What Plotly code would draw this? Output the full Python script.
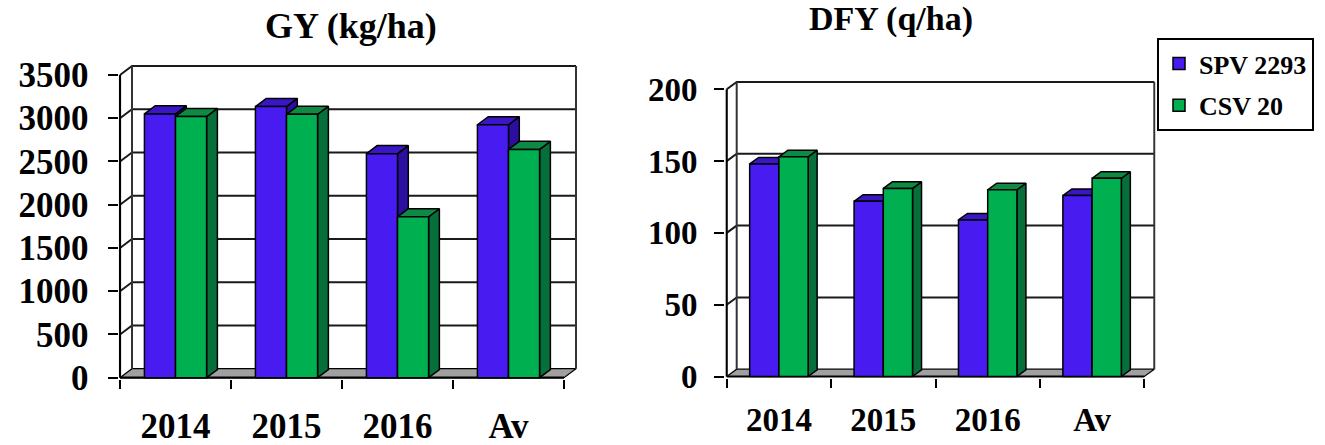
import plotly.graph_objects as go

# ---- data -------------------------------------------------------------
categories = ["2014", "2015", "2016", "Av"]
series_names = ["SPV 2293", "CSV 20"]

gy_spv = [3050, 3135, 2590, 2925]
gy_csv = [3020, 3045, 1860, 2640]
gy_ticks = [0, 500, 1000, 1500, 2000, 2500, 3000, 3500]

dfy_spv = [148, 122, 109, 126]
dfy_csv = [153, 131, 130, 138]
dfy_ticks = [0, 50, 100, 150, 200]

# ---- styling ----------------------------------------------------------
W, H = 1325, 445
FONT = "Liberation Serif"
FRONT = {"SPV 2293": "#481CF0", "CSV 20": "#00B050"}
TOP = {"SPV 2293": "#3A16C4", "CSV 20": "#0E8A45"}
SIDE = {"SPV 2293": "#2C0FA0", "CSV 20": "#07703A"}
FLOOR = "#A0A0A0"
EDGE = "black"

BAR_OFFSET = 0.22   # gap before the first bar of a category (category units)
BAR_WIDTH = 0.28    # width of one bar (category units)
BAR_DEPTH = 0.9     # bar depth as a share of the wall depth

panels = [
    dict(title="GY (kg/ha)", values=[gy_spv, gy_csv], ticks=gy_ticks,
         xa="x", ya="y", px_left=120.0, px_cat=111.0, px_zero=377.7,
         px_top=75.0, depth_x=12.0, depth_y=9.0, font_size=35,
         title_xy=(350.5, 26.5), title_size=36, xlabel_standoff=23,
         ylabel_standoff=12),
    dict(title="DFY (q/ha)", values=[dfy_spv, dfy_csv], ticks=dfy_ticks,
         xa="x2", ya="y2", px_left=726.7, px_cat=104.4, px_zero=376.5,
         px_top=89.3, depth_x=10.0, depth_y=7.3, font_size=33,
         title_xy=(891.0, 19.0), title_size=34, xlabel_standoff=19,
         ylabel_standoff=10),
]

fig = go.Figure()
layout_axes = {}
annotations = []


def poly(p, xs, ys, fill=None, width=1.5, color=EDGE):
    fig.add_trace(go.Scatter(
        x=xs, y=ys, xaxis=p["xa"], yaxis=p["ya"], mode="lines",
        fill="toself" if fill else None, fillcolor=fill,
        line=dict(color=color, width=width), hoverinfo="skip",
        showlegend=False))


for p in panels:
    ncat = len(categories)
    ymax = p["ticks"][-1]
    upp = ymax / (p["px_zero"] - p["px_top"])      # value units per pixel
    ddx = p["depth_x"] / p["px_cat"]               # wall depth in category units
    ddy = p["depth_y"] * upp                       # wall depth in value units
    pad_x = 1.5 / p["px_cat"]
    pad_y = 1.5 * upp

    x_lo, x_hi = -pad_x, ncat + ddx + pad_x
    y_lo, y_hi = -pad_y, ymax + ddy + pad_y
    dom_x = [(p["px_left"] + x_lo * p["px_cat"]) / W,
             (p["px_left"] + x_hi * p["px_cat"]) / W]
    dom_y = [(H - (p["px_zero"] + pad_y / upp)) / H,
             (H - (p["px_zero"] - y_hi / upp)) / H]

    # floor
    poly(p, [0, ncat, ncat + ddx, ddx, 0], [0, 0, ddy, ddy, 0], fill=FLOOR, width=1.2)
    # back wall and left wall gridlines
    gx, gy = [], []
    for t in p["ticks"][1:]:
        gx += [0, ddx, ncat + ddx, None]
        gy += [t, t + ddy, t + ddy, None]
    poly(p, gx, gy, width=2, color="#1A1A1A")
    # wall outline
    poly(p, [ddx, ddx, None, ncat + ddx, ncat + ddx],
         [ddy, ymax + ddy, None, ddy, ymax + ddy], width=2, color="#333333")
    # front value axis and front floor edge
    poly(p, [0, 0, None, 0, ncat], [0, ymax, None, 0, 0], width=2.2)

    # 3-D bars: side, top, front for each series, left to right
    bdx, bdy = ddx * BAR_DEPTH, ddy * BAR_DEPTH
    for i in range(ncat):
        for s, name in enumerate(series_names):
            v = p["values"][s][i]
            x0 = i + BAR_OFFSET + s * BAR_WIDTH
            x1 = x0 + BAR_WIDTH
            poly(p, [x1, x1 + bdx, x1 + bdx, x1, x1], [0, bdy, v + bdy, v, 0], fill=SIDE[name])
            poly(p, [x0, x1, x1 + bdx, x0 + bdx, x0], [v, v, v + bdy, v + bdy, v], fill=TOP[name])
            poly(p, [x0, x1, x1, x0, x0], [0, 0, v, v, 0], fill=FRONT[name])

    suffix = p["xa"][1:]
    layout_axes["xaxis" + suffix] = dict(
        domain=dom_x, range=[x_lo, x_hi], anchor=p["ya"], automargin=False,
        tickmode="array", tickvals=[i + 0.5 for i in range(ncat)], ticktext=categories,
        ticks="", showgrid=False, zeroline=False, showline=False,
        ticklabelstandoff=p["xlabel_standoff"],
        tickfont=dict(family=FONT, size=p["font_size"], color="black", weight="bold"),
        minor=dict(tickmode="array", tickvals=list(range(ncat + 1)), ticks="outside",
                   ticklen=9, tickwidth=2.2, tickcolor="black", showgrid=False),
        fixedrange=True)
    layout_axes["yaxis" + suffix] = dict(
        domain=dom_y, range=[y_lo, y_hi], anchor=p["xa"], automargin=False,
        tickmode="array", tickvals=p["ticks"], ticks="outside", ticklen=10,
        tickwidth=2.2, tickcolor="black", showgrid=False, zeroline=False,
        showline=False, ticklabelstandoff=p["ylabel_standoff"],
        tickfont=dict(family=FONT, size=p["font_size"], color="black", weight="bold"),
        fixedrange=True)

    annotations.append(dict(
        text=p["title"], xref="paper", yref="paper",
        x=p["title_xy"][0] / W, y=1 - p["title_xy"][1] / H,
        xanchor="center", yanchor="middle", showarrow=False,
        font=dict(family=FONT, size=p["title_size"], color="black", weight="bold")))

# legend entries
for k, name in enumerate(series_names):
    fig.add_trace(go.Scatter(
        x=[None], y=[None], mode="markers", name=name, legendgroup=name,
        marker=dict(symbol="square", size=12, color=FRONT[name],
                    line=dict(color="black", width=1.5)),
        xaxis="x2", yaxis="y2"))

fig.update_layout(
    width=W, height=H, autosize=False,
    margin=dict(l=0, r=0, t=0, b=0, pad=0, autoexpand=False),
    paper_bgcolor="white", plot_bgcolor="rgba(0,0,0,0)",
    font=dict(family=FONT, color="black"),
    showlegend=True,
    legend=dict(x=1157 / W, y=1 - 38 / H, xanchor="left", yanchor="top",
                bgcolor="white", bordercolor="black", borderwidth=2,
                tracegroupgap=5, itemclick=False, itemdoubleclick=False,
                font=dict(family=FONT, size=26, color="black", weight="bold")),
    annotations=annotations,
    **layout_axes,
)

fig.write_html("out.html")
